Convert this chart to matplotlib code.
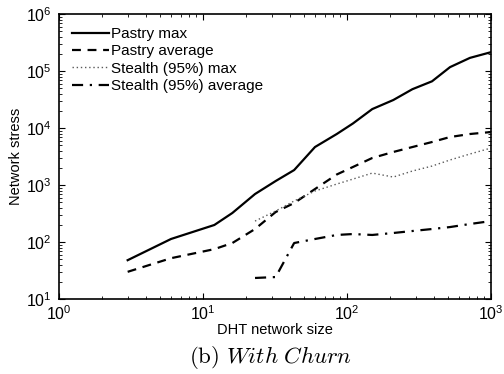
import matplotlib
matplotlib.use("Agg")
import matplotlib.pyplot as plt
from matplotlib.ticker import LogLocator, NullFormatter

plt.rcParams['font.family'] = ['Liberation Sans', 'DejaVu Sans']
plt.rcParams['mathtext.fontset'] = 'custom'
plt.rcParams['mathtext.rm'] = 'Liberation Sans'

# DHT network size
x_all = [3, 6, 12, 16, 23, 32, 43, 60, 85, 110, 150, 210, 285, 390, 520, 715, 1000]
x_stealth = [23, 32, 43, 60, 85, 110, 150, 210, 285, 390, 520, 715, 1000]

pastry_max = [48, 113, 199, 323, 695, 1175, 1830, 4640, 7850, 12000,
              21500, 31000, 48000, 66000, 117000, 170000, 214000]
pastry_avg = [30, 52, 75, 96, 169, 336, 483, 850, 1530, 2070,
              2980, 3800, 4640, 5680, 6950, 7850, 8500]
stealth_max = [233, 350, 525, 785, 1040, 1270, 1620, 1380, 1760, 2150, 2750, 3500, 4450]
stealth_avg = [23.4, 24.3, 96, 113, 133, 138, 133, 144, 156, 169, 183, 207, 233]

fig = plt.figure(figsize=(5.04, 3.74), dpi=100)
ax = fig.add_axes([0.117, 0.2005, 0.857, 0.762])

ax.plot(x_all, pastry_max, '-', color='k', lw=1.6, label='Pastry max')
ax.plot(x_all, pastry_avg, '--', color='k', lw=1.6, dashes=(4, 3), label='Pastry average')
ax.plot(x_stealth, stealth_max, ':', color='0.35', lw=1.0, dashes=(1, 2), label='Stealth (95%) max')
ax.plot(x_stealth, stealth_avg, '-.', color='k', lw=1.6, dashes=(5, 3, 1, 3), label='Stealth (95%) average')

ax.set_xscale('log')
ax.set_yscale('log')
ax.set_xlim(1, 1000)
ax.set_ylim(10, 1e6)
ax.xaxis.set_major_locator(LogLocator(base=10, numticks=10))
ax.yaxis.set_major_locator(LogLocator(base=10, numticks=10))
ax.xaxis.set_minor_locator(LogLocator(base=10, subs=range(2, 10), numticks=20))
ax.yaxis.set_minor_locator(LogLocator(base=10, subs=range(2, 10), numticks=20))
ax.xaxis.set_minor_formatter(NullFormatter())
ax.yaxis.set_minor_formatter(NullFormatter())
ax.tick_params(which='both', direction='in', top=True, right=True, labelsize=11.5)
ax.tick_params(axis='x', which='major', pad=3.5)
ax.tick_params(axis='y', which='major', pad=5)
ax.tick_params(which='major', length=4)
ax.tick_params(which='minor', length=2)
for s in ax.spines.values():
    s.set_linewidth(1.2)

ax.set_xlabel('DHT network size', fontsize=10.5, labelpad=0)
ax.set_ylabel('Network stress', fontsize=10.5, labelpad=2)

ax.legend(loc='upper left', frameon=False, fontsize=11, handlelength=2.4,
          handletextpad=0.15, labelspacing=0.22, borderaxespad=0.45)

fig.text(0.536, 0.045, r'$\mathrm{(b)}\ \mathit{With\ Churn}$', ha='center', va='center',
         fontsize=16.5, math_fontfamily='cm')

fig.savefig('out.png', dpi=100)
